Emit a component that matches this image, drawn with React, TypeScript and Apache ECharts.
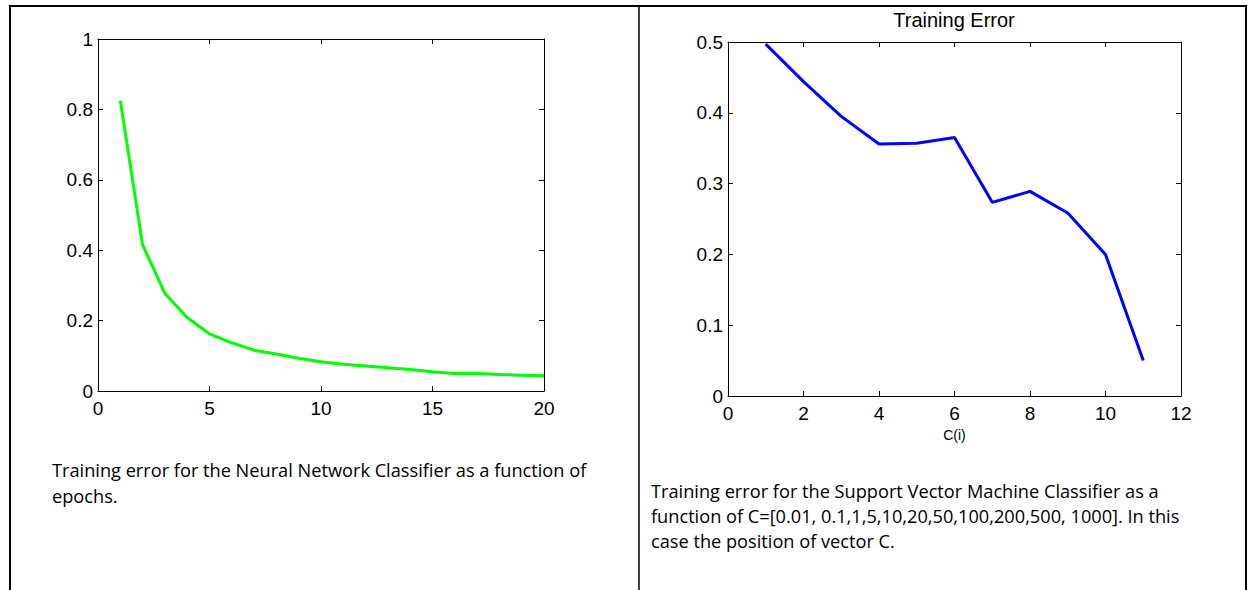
import React, { useEffect, useRef } from "react";
import * as echarts from "echarts";

// Left panel: neural network training error vs epochs
const epochs = [1, 2, 3, 4, 5, 6, 7, 8, 9, 10, 11, 12, 13, 14, 15, 16, 17, 18, 19, 20];
const nnError = [0.825, 0.415, 0.277, 0.209, 0.162, 0.137, 0.116, 0.105, 0.093, 0.083, 0.076, 0.071, 0.066, 0.061, 0.055, 0.05, 0.05, 0.047, 0.045, 0.043];

// Right panel: SVM training error vs position in C vector
const cIndex = [1, 2, 3, 4, 5, 6, 7, 8, 9, 10, 11];
const svmError = [0.497, 0.444, 0.395, 0.356, 0.357, 0.365, 0.2735, 0.289, 0.2585, 0.2, 0.05];

const rightTitle = "Training Error";
const rightXName = "C(i)";
const leftCaption = [
  "Training error for the Neural Network Classifier as a function of",
  "epochs.",
];
const rightCaption = [
  "Training error for the Support Vector Machine Classifier as a",
  "function of C=[0.01, 0.1,1,5,10,20,50,100,200,500, 1000]. In this",
  "case the position of vector C.",
];

const AX_FONT = "'Liberation Sans', Arial, sans-serif";
const CAP_FONT = "'Open Sans', sans-serif";

function axisCommon(showLabel: boolean, margin: number) {
  return {
    type: "value" as const,
    axisLine: { show: true, onZero: false, lineStyle: { color: "#000", width: 1 } },
    axisTick: { show: true, inside: true, length: 5, lineStyle: { color: "#000", width: 1 } },
    axisLabel: {
      show: showLabel,
      color: "#000",
      fontSize: 19,
      fontFamily: AX_FONT,
      margin,
    },
    splitLine: { show: false },
  };
}

export default function App() {
  const ref = useRef<HTMLDivElement>(null);
  useEffect(() => {
    if (!ref.current) return;
    const chart = echarts.init(ref.current, undefined, { renderer: "svg" });
    const graphics: any[] = [];
    // table borders
    graphics.push({ type: "line", shape: { x1: 9, y1: 6, x2: 1247, y2: 6 }, style: { stroke: "#000", lineWidth: 2 } });
    graphics.push({ type: "line", shape: { x1: 10, y1: 5, x2: 10, y2: 590 }, style: { stroke: "#000", lineWidth: 2 } });
    graphics.push({ type: "line", shape: { x1: 639, y1: 5, x2: 639, y2: 590 }, style: { stroke: "#000", lineWidth: 1.5 } });
    graphics.push({ type: "line", shape: { x1: 1246, y1: 5, x2: 1246, y2: 590 }, style: { stroke: "#000", lineWidth: 2 } });
    leftCaption.forEach((t, i) => {
      graphics.push({
        type: "text",
        x: 52,
        y: 470 + i * 26,
        style: { text: t, font: `18.2px ${CAP_FONT}`, fill: "#000", textAlign: "left", textVerticalAlign: "middle", align: "left", verticalAlign: "middle" },
      });
    });
    rightCaption.forEach((t, i) => {
      graphics.push({
        type: "text",
        x: 651,
        y: 491 + i * 25,
        style: { text: t, font: `18.2px ${CAP_FONT}`, fill: "#000", textAlign: "left", textVerticalAlign: "middle", align: "left", verticalAlign: "middle" },
      });
    });

    chart.setOption({
      animation: false,
      backgroundColor: "#fff",
      title: {
        text: rightTitle,
        left: 954,
        top: 10,
        padding: 0,
        textAlign: "center",
        textStyle: { color: "#000", fontSize: 20, fontWeight: "normal", fontFamily: AX_FONT },
      },
      grid: [
        { left: 98, top: 39, width: 446, height: 352, containLabel: false },
        { left: 728, top: 42, width: 453, height: 354, containLabel: false },
      ],
      xAxis: [
        { ...axisCommon(true, 8), gridIndex: 0, position: "bottom", min: 0, max: 20, interval: 5 },
        { ...axisCommon(false, 8), gridIndex: 0, position: "top", min: 0, max: 20, interval: 5 },
        {
          ...axisCommon(true, 8),
          gridIndex: 1,
          position: "bottom",
          min: 0,
          max: 12,
          interval: 2,
          name: rightXName,
          nameLocation: "middle",
          nameGap: 30,
          nameTextStyle: { color: "#000", fontSize: 14, fontFamily: AX_FONT },
        },
        { ...axisCommon(false, 8), gridIndex: 1, position: "top", min: 0, max: 12, interval: 2 },
      ],
      yAxis: [
        { ...axisCommon(true, 5), gridIndex: 0, position: "left", min: 0, max: 1, interval: 0.2 },
        { ...axisCommon(false, 5), gridIndex: 0, position: "right", min: 0, max: 1, interval: 0.2 },
        { ...axisCommon(true, 5), gridIndex: 1, position: "left", min: 0, max: 0.5, interval: 0.1 },
        { ...axisCommon(false, 5), gridIndex: 1, position: "right", min: 0, max: 0.5, interval: 0.1 },
      ],
      series: [
        {
          type: "line",
          xAxisIndex: 0,
          yAxisIndex: 0,
          data: epochs.map((x, i) => [x, nnError[i]]),
          showSymbol: false,
          lineStyle: { color: "#00ff00", width: 3 },
          itemStyle: { color: "#00ff00" },
        },
        {
          type: "line",
          xAxisIndex: 2,
          yAxisIndex: 2,
          data: cIndex.map((x, i) => [x, svmError[i]]),
          showSymbol: false,
          lineStyle: { color: "#0000ff", width: 3 },
          itemStyle: { color: "#0000ff" },
        },
      ],
      graphic: graphics,
    });
    return () => chart.dispose();
  }, []);
  return (
    <div
      ref={ref}
      style={{ position: "absolute", left: 0, top: 0, width: 1248, height: 590, background: "#fff" }}
    />
  );
}
